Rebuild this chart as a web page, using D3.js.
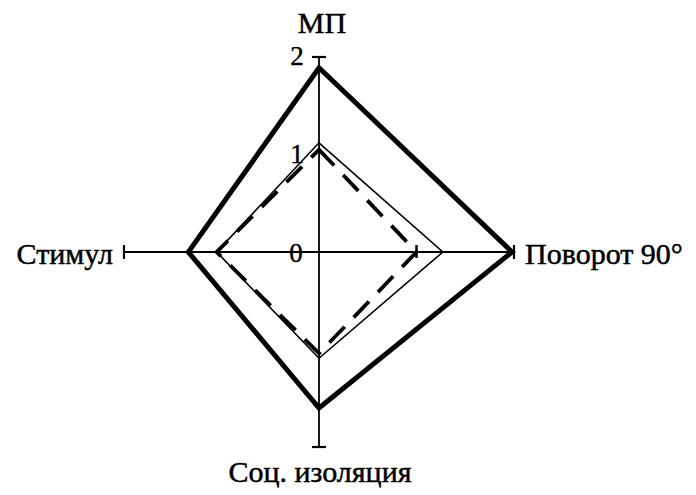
<!DOCTYPE html>
<html><head><meta charset="utf-8">
<script src="https://cdn.jsdelivr.net/npm/d3@7"></script>
<style>body{margin:0;background:#fff}svg{display:block}</style>
</head><body>
<svg id="c" width="696" height="495"></svg>
<script>
const axes = ["МП", "Поворот 90°", "Соц. изоляция", "Стимул"];
const seriesThick = [1.89, 1.98, 1.60, 1.34];
const seriesThin = [1.12, 1.27, 1.09, 1.05];
const seriesDashed = [1.05, 1.0, 1.04, 1.05];
const tickValues = [0, 1, 2];
const tickLabels = ["0", "1", "2"];

const svg = d3.select("#c");
const cx = 319, cy = 252;
const r = d3.scaleLinear().domain([0, 2]).range([0, 195]);
const ang = d3.scaleOrdinal().domain(axes).range([-Math.PI/2, 0, Math.PI/2, Math.PI]);
const g = svg.append("g").attr("transform", `translate(${cx},${cy})`);
const pt = (a, v) => [Math.cos(ang(a)) * r(v), Math.sin(ang(a)) * r(v)];
const font = "'Liberation Serif', 'Times New Roman', serif";

axes.forEach(a => {
  const [x2, y2] = pt(a, 2);
  g.append("line").attr("x1", 0).attr("y1", 0).attr("x2", x2).attr("y2", y2)
    .attr("stroke", "#000").attr("stroke-width", 1.8);
  const t = ang(a) + Math.PI / 2, L = 7;
  g.append("line")
    .attr("x1", x2 - Math.cos(t) * L).attr("y1", y2 - Math.sin(t) * L)
    .attr("x2", x2 + Math.cos(t) * L).attr("y2", y2 + Math.sin(t) * L)
    .attr("stroke", "#000").attr("stroke-width", 2.2);
});
{
  const [x, y] = pt(axes[1], 1);
  g.append("line").attr("x1", x).attr("x2", x).attr("y1", y - 7).attr("y2", y + 6)
    .attr("stroke", "#000").attr("stroke-width", 2.5);
}

const line = d3.line().curve(d3.curveLinearClosed);
function poly(vals, w, dash) {
  const p = g.append("path")
    .attr("d", line(axes.map((a, i) => pt(a, vals[i]))))
    .attr("fill", "none").attr("stroke", "#000").attr("stroke-width", w)
    .attr("stroke-linejoin", "miter");
  if (dash) p.attr("stroke-dasharray", dash);
}
poly(seriesThin, 1.6);
poly(seriesDashed, 3.8, "22,13");
poly(seriesThick, 5);

const tl = [[-23, 10], [-22, 8], [-22, 8]];
tickValues.forEach((v, i) => {
  g.append("text").attr("x", tl[i][0]).attr("y", -r(v) + tl[i][1])
    .attr("text-anchor", "middle").style("font-family", font).attr("font-size", 27)
    .attr("stroke", "#000").attr("stroke-width", 0.4)
    .text(tickLabels[i]);
});

const lab = (txt, x, y, anchor) => svg.append("text").attr("x", x).attr("y", y)
  .attr("text-anchor", anchor).style("font-family", font).attr("font-size", 30)
  .attr("stroke", "#000").attr("stroke-width", 0.5).text(txt);
lab(axes[0], 322, 33, "middle");
lab(axes[1], 525, 264, "start");
lab(axes[2], 320, 482, "middle");
lab(axes[3], 113, 264, "end");
</script>
</body></html>
